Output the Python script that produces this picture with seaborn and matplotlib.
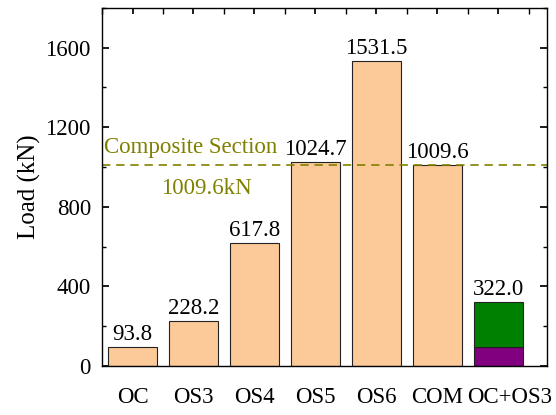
import seaborn as sns
import matplotlib.pyplot as plt
import pandas as pd
from matplotlib.ticker import MultipleLocator
from matplotlib.transforms import ScaledTranslation

categories = ["OC", "OS3", "OS4", "OS5", "OS6", "COM", "OC+OS3"]
loads = [93.8, 228.2, 617.8, 1024.7, 1531.5, 1009.6, 322.0]
stack_bottom = 93.8   # OC part of OC+OS3
stack_top = 228.2     # OS3 part of OC+OS3
composite_load = 1009.6

sns.set_theme(style="ticks", rc={
    "text.color": "black", "axes.labelcolor": "black", "axes.edgecolor": "black",
    "xtick.color": "black", "ytick.color": "black",
})
plt.rcParams['font.family'] = ['Liberation Serif', 'DejaVu Serif']

fig, ax = plt.subplots(figsize=(5.56, 4.15), dpi=100)

df = pd.DataFrame({"case": categories[:-1], "load": loads[:-1]})
sns.barplot(data=df, x="case", y="load", order=categories, color="#FCC999",
            saturation=1, edgecolor="#222222", linewidth=0.8, width=0.8, ax=ax)

# stacked bar for OC+OS3
ax.bar(categories[-1], stack_bottom, width=0.8, color="purple", edgecolor="#222222", linewidth=0.8)
ax.bar(categories[-1], stack_top, bottom=stack_bottom, width=0.8, color="green",
       edgecolor="#222222", linewidth=0.8)

for i, v in enumerate(loads):
    ax.text(i, v + 35, f"{v:.1f}", ha="center", va="baseline", fontsize=16.5)

olive = "#808000"
ax.axhline(composite_load, color=olive, linestyle=(0, (5, 3.5)), linewidth=1.2)
ax.text(-0.46, composite_load + 60, "Composite Section", color=olive, fontsize=16.5,
        ha="left", va="baseline")
ax.text(1.22, composite_load - 115, "1009.6kN", color=olive, fontsize=16.5,
        ha="center", va="center")

ax.set_xlim(-0.5, 6.8)
ax.set_ylim(0, 1800)
ax.yaxis.set_major_locator(MultipleLocator(400))
ax.yaxis.set_minor_locator(MultipleLocator(200))
ax.xaxis.set_minor_locator(MultipleLocator(0.5))
ax.tick_params(axis="y", which="both", direction="in", right=True, labelsize=16.5, pad=8)
ax.tick_params(axis="y", which="major", length=5)
ax.tick_params(axis="y", which="minor", length=3)
ax.tick_params(axis="x", which="both", direction="in", bottom=False, top=True,
               labelsize=16.5, pad=15, length=4)
ax.set_xlabel("")
ax.set_ylabel("Load (kN)", fontsize=18, labelpad=3)
for s in ax.spines.values():
    s.set_linewidth(1.0)
    s.set_visible(True)

# last label sits a bit right of its bar in the original
last = ax.get_xticklabels()[-1]
last.set_transform(last.get_transform() + ScaledTranslation(0.11, 0, fig.dpi_scale_trans))

fig.subplots_adjust(left=0.1835, right=0.984, top=0.981, bottom=0.118)
fig.savefig("out.png")
